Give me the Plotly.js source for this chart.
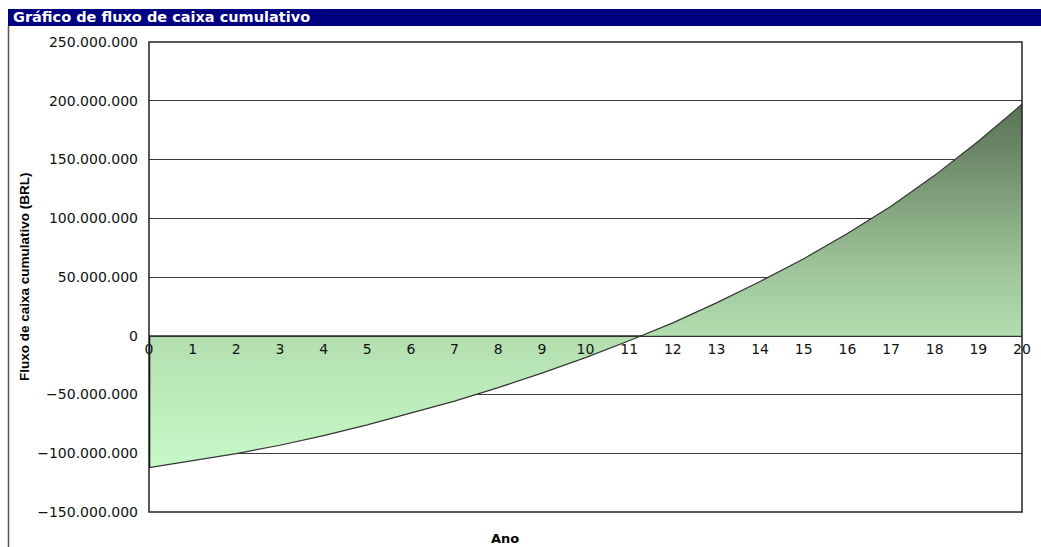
<!DOCTYPE html>
<html>
<head>
<meta charset="utf-8">
<script src="https://cdn.plot.ly/plotly-3.0.1.min.js"></script>
<style>
  html, body { margin: 0; padding: 0; background: #ffffff; }
  #chart { width: 1041px; height: 547px; }
</style>
</head>
<body>
<div id="chart"></div>
<script>
// Years of the project horizon
const years = [0, 1, 2, 3, 4, 5, 6, 7, 8, 9, 10, 11, 12, 13, 14, 15, 16, 17, 18, 19, 20];
const yearLabels = years.map(String);

// Cumulative cash flow per year (BRL)
const cumulativeFlow = [
  -112300000, -106200000, -100300000, -93200000, -85000000, -75800000,
  -66000000, -55600000, -44200000, -31800000, -18600000, -4200000,
  11000000, 28000000, 46200000, 65600000, 87000000, 110300000,
  136500000, 165500000, 197000000
];

// Value axis
const yMin = -150000000;
const yMax = 250000000;
const yStep = 50000000;

const chartTitle = 'Gráfico de fluxo de caixa cumulativo';
const yTitle = 'Fluxo de caixa cumulativo (BRL)';
const xTitle = 'Ano';

// Page geometry (pixels) used to place the decorations outside the plot box
const W = 1041, H = 547;
const M = { l: 149, r: 19, t: 42, b: 35 };
const plotW = W - M.l - M.r;
const plotH = H - M.t - M.b;
const px = x => (x - M.l) / plotW;          // page x -> paper x
const py = y => (H - M.b - y) / plotH;      // page y -> paper y

const area = {
  type: 'scatter',
  mode: 'lines',
  x: years,
  y: cumulativeFlow,
  fill: 'tozeroy',
  fillgradient: {
    type: 'vertical',
    colorscale: [
      [0.00, '#c8f9c8'],
      [0.36, '#b3dfaf'],
      [0.55, '#9dc498'],
      [0.85, '#6f8b6b'],
      [1.00, '#5a7256']
    ]
  },
  line: { color: '#353535', width: 1.2 },
  hoverinfo: 'x+y'
};

// Left edge of the area at the first year, from zero to the opening value
const startEdge = {
  type: 'scatter',
  mode: 'lines',
  x: [years[0], years[0]],
  y: [0, cumulativeFlow[0]],
  line: { color: '#000000', width: 2.5 },
  hoverinfo: 'skip'
};

const layout = {
  width: W,
  height: H,
  margin: M,
  paper_bgcolor: '#ffffff',
  plot_bgcolor: '#ffffff',
  showlegend: false,
  separators: ',.',
  font: { family: 'DejaVu Sans, sans-serif', size: 14, color: '#000000' },
  xaxis: {
    range: [years[0], years[years.length - 1]],
    tickmode: 'array',
    tickvals: years,
    ticktext: yearLabels,
    anchor: 'free',
    position: (0 - yMin) / (yMax - yMin),
    showline: true,
    linecolor: '#303030',
    linewidth: 1.5,
    showgrid: false,
    zeroline: false,
    ticks: '',
    tickfont: { family: 'DejaVu Sans, sans-serif', size: 14, color: '#111111' },
    fixedrange: true
  },
  yaxis: {
    range: [yMin, yMax],
    tick0: yMin,
    dtick: yStep,
    tickformat: ',.0f',
    showgrid: true,
    gridcolor: '#3a3a3a',
    gridwidth: 1,
    zeroline: false,
    showline: false,
    ticks: '',
    ticklabelstandoff: 10,
    tickfont: { family: 'DejaVu Sans, sans-serif', size: 14, color: '#111111' },
    fixedrange: true
  },
  shapes: [
    // title bar
    { type: 'rect', xref: 'paper', yref: 'paper', layer: 'below',
      x0: px(8), x1: px(W + 2), y0: py(26), y1: py(9),
      fillcolor: '#000080', line: { width: 0 } },
    // outer chart border on the left
    { type: 'line', xref: 'paper', yref: 'paper',
      x0: px(8.5), x1: px(8.5), y0: py(26), y1: py(H + 2),
      line: { color: '#555555', width: 1.5 } },
    // plot frame
    { type: 'rect', xref: 'paper', yref: 'paper', layer: 'above',
      x0: 0, x1: 1, y0: 0, y1: 1,
      line: { color: '#222222', width: 1.5 } }
  ],
  annotations: [
    { text: chartTitle, xref: 'paper', yref: 'paper',
      x: px(11), y: py(17.5), xanchor: 'left', yanchor: 'middle', showarrow: false,
      font: { family: 'DejaVu Sans, sans-serif', size: 14.5, color: '#ffffff', weight: 'bold' } },
    { text: yTitle, xref: 'paper', yref: 'paper', textangle: -90,
      x: px(24), y: py(277), xanchor: 'center', yanchor: 'middle', showarrow: false,
      font: { family: 'Liberation Sans, Arial, sans-serif', size: 13.5, color: '#000000', weight: 'bold' } },
    { text: xTitle, xref: 'paper', yref: 'paper',
      x: px(505), y: py(538), xanchor: 'center', yanchor: 'middle', showarrow: false,
      font: { family: 'DejaVu Sans, sans-serif', size: 13, color: '#000000', weight: 'bold' } }
  ]
};

Plotly.newPlot('chart', [area, startEdge], layout, { displayModeBar: false, staticPlot: true });
</script>
</body>
</html>
